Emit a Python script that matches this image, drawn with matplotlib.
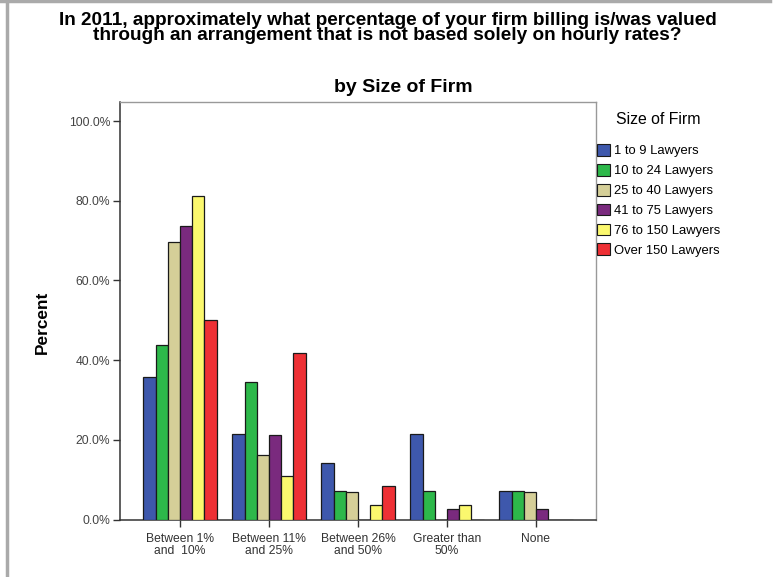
import matplotlib
matplotlib.use("Agg")
import matplotlib.pyplot as plt
from matplotlib.patches import Patch
import numpy as np

plt.rcParams['font.family'] = ['Liberation Sans', 'DejaVu Sans']

categories = ["Between 1%\nand  10%", "Between 11%\nand 25%", "Between 26%\nand 50%",
              "Greater than\n50%", "None"]
series_names = ["1 to 9 Lawyers", "10 to 24 Lawyers", "25 to 40 Lawyers",
                "41 to 75 Lawyers", "76 to 150 Lawyers", "Over 150 Lawyers"]
firm_1_9 = [35.7, 21.4, 14.3, 21.4, 7.1]
firm_10_24 = [43.8, 34.4, 7.1, 7.1, 7.2]
firm_25_40 = [69.6, 16.1, 7.0, 0.0, 7.0]
firm_41_75 = [73.7, 21.1, 0.0, 2.6, 2.6]
firm_76_150 = [81.3, 10.9, 3.7, 3.7, 0.0]
firm_over_150 = [50.0, 41.7, 8.3, 0.0, 0.0]
yticks = [0, 20, 40, 60, 80, 100]

series = [firm_1_9, firm_10_24, firm_25_40, firm_41_75, firm_76_150, firm_over_150]
colors = ["#3E58AC", "#2DB84A", "#D5CF98", "#7A2A7E", "#FBF86E", "#EE3035"]

W, H = 775, 577
fig = plt.figure(figsize=(W / 100, H / 100), dpi=100)
ax = fig.add_axes([120 / W, 1 - 519.5 / H, 476 / W, 418 / H])

x = np.arange(len(categories))
w = 0.137
for i, (vals, c) in enumerate(zip(series, colors)):
    offs = (i - 2.5) * w
    ax.bar(x + offs, vals, width=w, color=c, edgecolor="#1a1a1a", linewidth=0.9, zorder=3)

ax.set_xlim(-0.675, 4.675)
ax.set_ylim(0, 104.9)
ax.set_xticks(x)
ax.set_xticklabels(categories, fontsize=8.7, color="#333333", linespacing=1.0)
ax.set_yticks(yticks)
ax.set_yticklabels([f"{v:.1f}%" for v in yticks], fontsize=8.7, color="#444444")
ax.tick_params(axis="both", direction="out", length=5, width=1, color="#333333", pad=2)
ax.tick_params(axis="x", pad=5)

for s in ["left", "bottom"]:
    ax.spines[s].set_color("#333333")
    ax.spines[s].set_linewidth(1.1)
for s in ["top", "right"]:
    ax.spines[s].set_color("#999999")
    ax.spines[s].set_linewidth(1.0)

fig.text(42 / W, 1 - 322 / H, "Percent", rotation=90, ha="center", va="center",
         fontsize=12.4, fontweight="bold")

fig.text(0.5, 1 - 28 / H, "In 2011, approximately what percentage of your firm billing is/was valued\n"
         "through an arrangement that is not based solely on hourly rates?",
         ha="center", va="center", fontsize=13.7, fontweight="bold", linespacing=0.78)
fig.text(403 / W, 1 - 87 / H, "by Size of Firm", ha="center", va="center",
         fontsize=14, fontweight="bold")

handles = [Patch(facecolor=c, edgecolor="#1a1a1a", linewidth=0.8) for c in colors]
leg = fig.legend(handles, series_names, loc="upper left", bbox_to_anchor=(597 / W, 1 - 112.5 / H),
                 frameon=False, fontsize=9.4, title="Size of Firm", title_fontsize=11.4,
                 handlelength=1.0, handleheight=1.0, handletextpad=0.3, labelspacing=0.5,
                 borderaxespad=0, borderpad=0, alignment="center")
leg._legend_box.sep = 12

# outer frame lines of the chart area
fig.add_artist(plt.Line2D([0, 0.994], [0.998, 0.998], transform=fig.transFigure,
                          color="#aaaaaa", linewidth=2.5))
fig.add_artist(plt.Line2D([0.009, 0.009], [0, 0.998], transform=fig.transFigure,
                          color="#aaaaaa", linewidth=2.5))

fig.savefig("out.png", dpi=100)
